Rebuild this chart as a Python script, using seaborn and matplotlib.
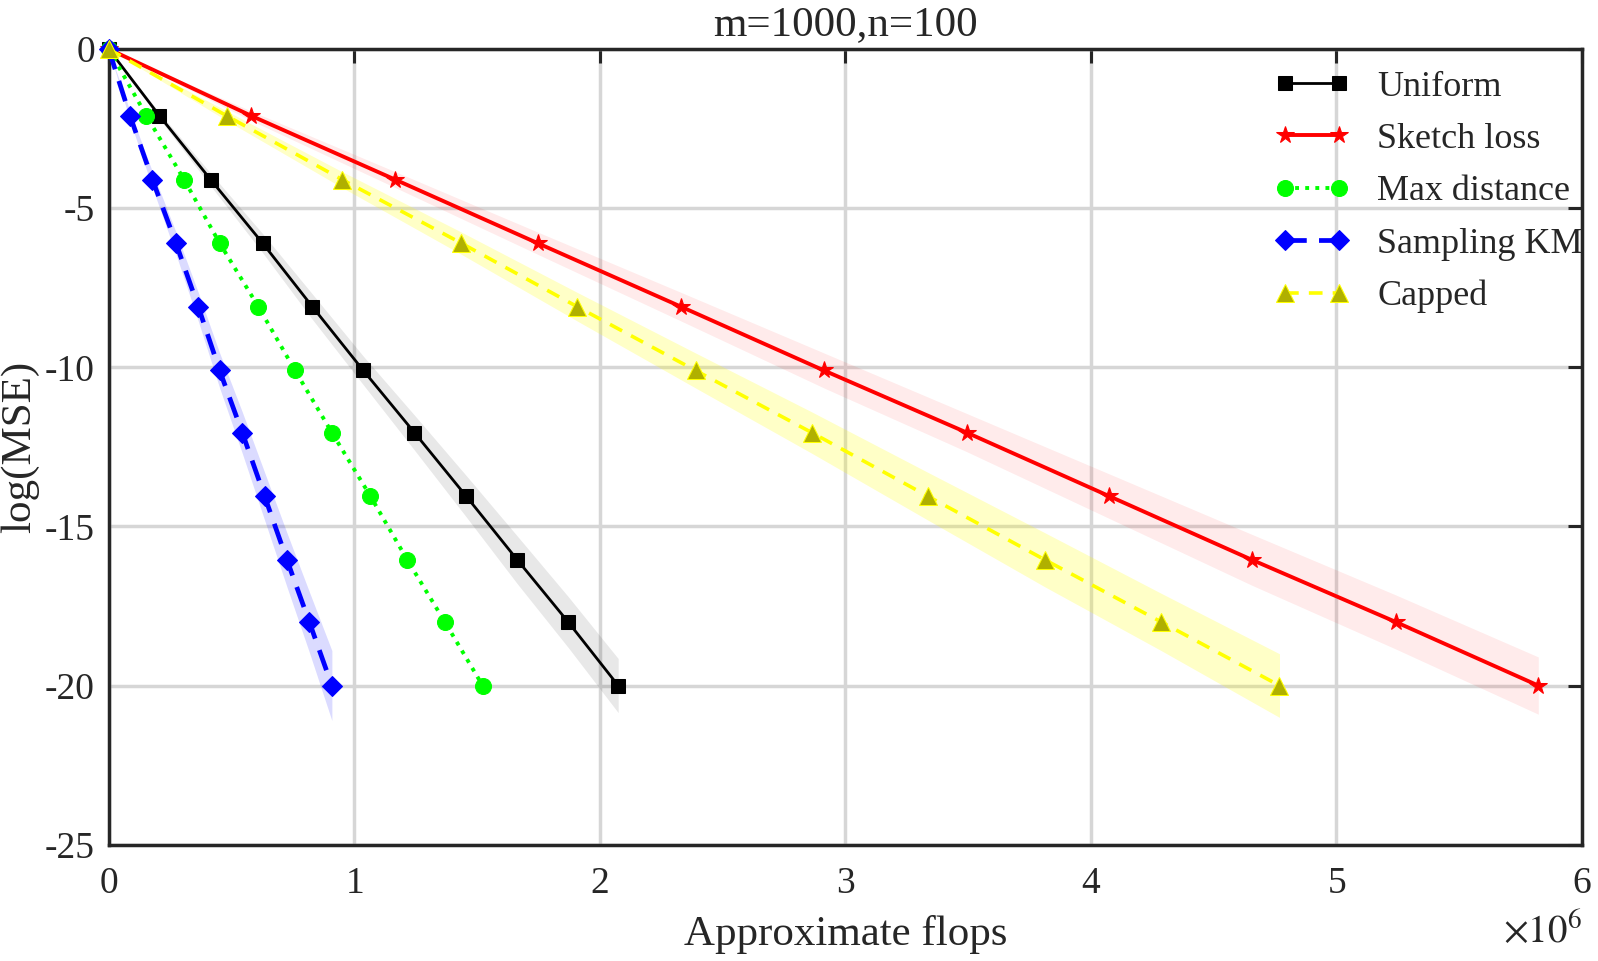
import seaborn as sns
import matplotlib.pyplot as plt
from matplotlib.ticker import ScalarFormatter

# log(MSE) levels shared by every method
log_mse = [0, -2.1, -4.1, -6.1, -8.1, -10.1, -12.05, -14.05, -16.05, -18.0, -20.0]

# approximate flops reached at each level
flops_uniform = [0, 0.207e6, 0.415e6, 0.627e6, 0.830e6, 1.037e6, 1.245e6, 1.456e6, 1.664e6, 1.871e6, 2.075e6]
flops_sketch = [0, 0.581e6, 1.166e6, 1.747e6, 2.332e6, 2.913e6, 3.494e6, 4.075e6, 4.656e6, 5.241e6, 5.822e6]
flops_maxdist = [0, 0.154e6, 0.307e6, 0.452e6, 0.610e6, 0.759e6, 0.909e6, 1.066e6, 1.216e6, 1.369e6, 1.523e6]
flops_km = [0, 0.087e6, 0.178e6, 0.274e6, 0.365e6, 0.452e6, 0.544e6, 0.635e6, 0.726e6, 0.817e6, 0.909e6]
flops_capped = [0, 0.481e6, 0.950e6, 1.436e6, 1.909e6, 2.390e6, 2.863e6, 3.336e6, 3.813e6, 4.286e6, 4.768e6]

# half width of the shaded spread around each curve
spread_uniform = [0, 0.1, 0.2, 0.3, 0.4, 0.45, 0.55, 0.65, 0.75, 0.8, 0.85]
spread_sketch = [0, 0.15, 0.25, 0.35, 0.45, 0.55, 0.6, 0.7, 0.8, 0.85, 0.9]
spread_km = [0, 0.15, 0.25, 0.35, 0.45, 0.55, 0.65, 0.75, 0.85, 0.95, 1.1]
spread_capped = [0, 0.15, 0.25, 0.35, 0.45, 0.55, 0.65, 0.75, 0.85, 0.9, 1.0]

sns.set_style("white")
plt.rcParams['font.family'] = ['Liberation Serif', 'DejaVu Serif']
plt.rcParams['mathtext.fontset'] = 'stix'
plt.rcParams['axes.unicode_minus'] = False

fig = plt.figure(figsize=(15.98, 9.61), dpi=100)
ax = fig.add_axes([0.068, 0.121, 0.922, 0.828])

def band(x, y, w, cor, a):
    baixo = [yy - ww for yy, ww in zip(y, w)]
    cima = [yy + ww for yy, ww in zip(y, w)]
    ax.fill_between(x, baixo, cima, color=cor, alpha=a, lw=0, zorder=1)

band(flops_uniform, log_mse, spread_uniform, 'black', 0.09)
band(flops_sketch, log_mse, spread_sketch, 'red', 0.08)
band(flops_km, log_mse, spread_km, 'blue', 0.14)
band(flops_capped, log_mse, spread_capped, 'yellow', 0.22)

sns.lineplot(x=flops_uniform, y=log_mse, sort=False, ax=ax, color='black', lw=2,
             marker='s', markersize=9.5, markeredgecolor='black', label='Uniform', clip_on=False)
sns.lineplot(x=flops_sketch, y=log_mse, sort=False, ax=ax, color='red', lw=2.8,
             marker='*', markersize=13, markeredgecolor='red', label='Sketch loss', clip_on=False)
sns.lineplot(x=flops_maxdist, y=log_mse, sort=False, ax=ax, color='#00ff00', lw=2.8,
             marker='o', markersize=11.5, markeredgecolor='#00ff00', label='Max distance', clip_on=False)
ax.lines[-1].set_dashes([1, 1.6])
sns.lineplot(x=flops_km, y=log_mse, sort=False, ax=ax, color='blue', lw=3.4,
             marker='D', markersize=10.5, markeredgecolor='blue', label='Sampling KM', clip_on=False)
ax.lines[-1].set_dashes([4.5, 2.6])
sns.lineplot(x=flops_capped, y=log_mse, sort=False, ax=ax, color='yellow', lw=2.6,
             marker='^', markersize=12.5, markerfacecolor='#b0b000', markeredgecolor='yellow',
             label='Capped', clip_on=False)
ax.lines[-1].set_dashes([3.8, 2.8])

for linha in ax.lines:
    linha.set_zorder(3)

ax.set_xlim(0, 6e6)
ax.set_ylim(-25, 0)
ax.set_xticks([0, 1e6, 2e6, 3e6, 4e6, 5e6, 6e6])
ax.set_yticks([-25, -20, -15, -10, -5, 0])
fmt = ScalarFormatter(useMathText=True)
fmt.set_powerlimits((0, 0))
ax.xaxis.set_major_formatter(fmt)
ax.xaxis.get_offset_text().set_visible(False)
ax.text(1.0, -0.085, r'$\times10^{6}$', transform=ax.transAxes, ha='right', va='top', fontsize=28)

ax.grid(True, color='#d6d6d6', lw=2.5)
ax.set_axisbelow(True)
for lado in ax.spines.values():
    lado.set_color('#262626')
    lado.set_linewidth(2.5)
ax.tick_params(direction='in', length=10, width=2.2, labelsize=27,
               top=True, right=True, color='#262626')
ax.tick_params(axis='x', pad=16)
ax.tick_params(axis='y', pad=10)

ax.set_title('m=1000,n=100', fontsize=31, pad=10)
ax.set_xlabel('Approximate flops', fontsize=31, labelpad=10)
ax.set_ylabel('log(MSE)', fontsize=31, labelpad=4)

leg = ax.legend(loc='upper left', bbox_to_anchor=(0.774, 1.005), frameon=False, fontsize=26,
                numpoints=2, handlelength=2.1, labelspacing=0.53, borderaxespad=0.3,
                handletextpad=0.75)

fig.savefig('out.png', dpi=100)
